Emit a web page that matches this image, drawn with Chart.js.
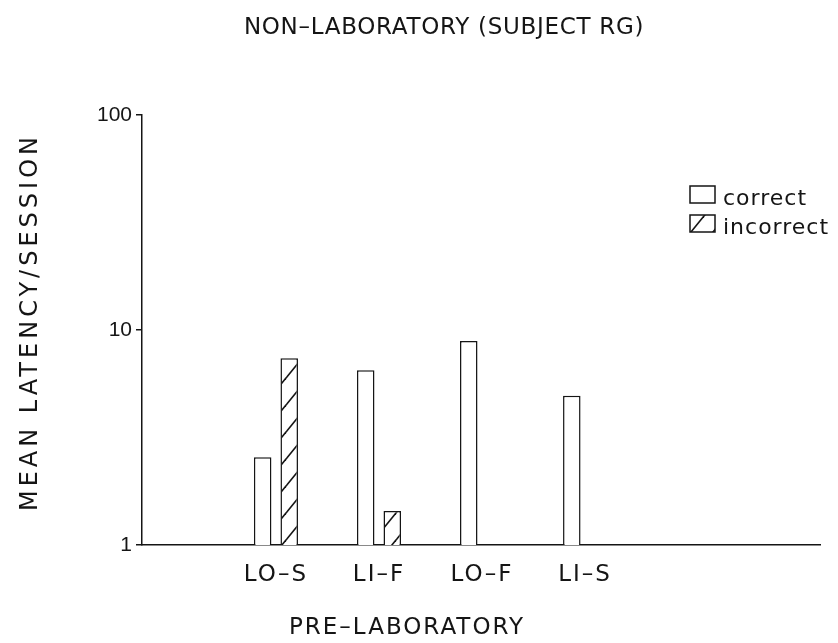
<!DOCTYPE html>
<html>
<head>
<meta charset="utf-8">
<script src="https://cdn.jsdelivr.net/npm/chart.js@4.4.1/dist/chart.umd.min.js"></script>
<style>
  body { margin: 0; background: #fff; }
</style>
</head>
<body>
<canvas id="myChart" width="838" height="643"></canvas>
<script>
// values
const categories = ['LO–S', 'LI–F', 'LO–F', 'LI–S'];
const categoryPos = [1, 2, 3, 4];
const correct = [2.56, 6.49, 8.88, 4.95];
const incorrect = [7.39, 1.44, null, null];
const yTicks = [1, 10, 100];
const seriesNames = ['correct', 'incorrect'];

const ink = '#151515';
const font = 'DejaVu Sans';

// diagonal hatch for the "incorrect" bars
function makeHatch() {
    const w = 22, h = 27;
    const c = document.createElement('canvas');
    c.width = w;
    c.height = h;
    const g = c.getContext('2d');
    g.fillStyle = '#fff';
    g.fillRect(0, 0, w, h);
    g.strokeStyle = ink;
    g.lineWidth = 1.6;
    for (let n = -1; n <= 1; n++) {
        g.beginPath();
        g.moveTo(-w, n * h + 2 * h);
        g.lineTo(2 * w, n * h - h);
        g.stroke();
    }
    return g.createPattern(c, 'repeat');
}
const hatch = makeHatch();

const textPlugin = {
    id: 'textPlugin',
    beforeDraw(chart) {
        // y labels are drawn before the bars, x labels after them (ticks.z = 1)
        chart.ctx.letterSpacing = '0px';
    },
    afterDatasetsDraw(chart) {
        chart.ctx.letterSpacing = '2px';
    },
    afterDraw(chart) {
        const ctx = chart.ctx;
        ctx.save();
        ctx.fillStyle = ink;
        ctx.textBaseline = 'alphabetic';
        ctx.textAlign = 'center';

        ctx.font = '23px "' + font + '"';
        ctx.letterSpacing = '0.7px';
        ctx.fillText('NON–LABORATORY (SUBJECT RG)', 444, 34);

        ctx.letterSpacing = '2px';
        ctx.fillText('PRE–LABORATORY', 407, 634);

        ctx.save();
        ctx.translate(37, 322);
        ctx.rotate(-Math.PI / 2);
        ctx.font = '24px "' + font + '"';
        ctx.letterSpacing = '4px';
        ctx.fillText('MEAN LATENCY/SESSION', 0, 0);
        ctx.restore();

        // legend
        ctx.font = '22px "' + font + '"';
        ctx.letterSpacing = '1px';
        ctx.textAlign = 'left';
        chart.data.datasets.forEach((ds, i) => {
            const top = 186 + i * 29;
            ctx.fillStyle = ds.backgroundColor;
            ctx.fillRect(690, top, 25, 17);
            ctx.strokeStyle = ink;
            ctx.lineWidth = 1.5;
            ctx.strokeRect(690, top, 25, 17);
            ctx.fillStyle = ink;
            ctx.fillText(ds.label, 723, top + 19);
        });
        ctx.restore();
    }
};

const ctx = document.getElementById('myChart');
new Chart(ctx, {
    type: 'bar',
    data: {
        datasets: [{
            label: seriesNames[0],
            data: categoryPos.map((x, i) => ({ x: x, y: correct[i] })),
            backgroundColor: '#fff',
            borderColor: ink,
            borderWidth: 1.5
        }, {
            label: seriesNames[1],
            data: categoryPos.map((x, i) => ({ x: x, y: incorrect[i] })),
            backgroundColor: hatch,
            borderColor: ink,
            borderWidth: 1.5
        }]
    },
    options: {
        responsive: false,
        animation: false,
        barPercentage: 0.66,
        categoryPercentage: 0.515,
        layout: { padding: { top: 115, left: 0, right: 18, bottom: 0 } },
        scales: {
            x: {
                type: 'linear',
                offset: false,
                min: -0.3,
                max: 6.28,
                afterBuildTicks: s => { s.ticks = categoryPos.map(v => ({ value: v })); },
                afterFit: s => { s.height = 98; },
                grid: { display: false, drawTicks: false },
                border: { display: true, color: ink, width: 1.5 },
                ticks: {
                    z: 1,
                    color: ink,
                    font: { family: font, size: 23 },
                    padding: 16,
                    maxRotation: 0,
                    autoSkip: false,
                    callback: v => categories[categoryPos.indexOf(v)] ?? ''
                }
            },
            y: {
                type: 'logarithmic',
                min: 1,
                max: 100,
                afterBuildTicks: s => { s.ticks = yTicks.map(v => ({ value: v })); },
                afterFit: s => { s.width = 142; },
                grid: { drawOnChartArea: false, drawTicks: true, tickLength: 6, color: ink, lineWidth: 1.5 },
                border: { display: true, color: ink, width: 1.5 },
                ticks: {
                    color: ink,
                    font: { family: 'Liberation Sans', size: 21 },
                    padding: 4,
                    callback: v => String(v)
                }
            }
        },
        plugins: {
            legend: { display: false },
            tooltip: { enabled: false },
            title: { display: false }
        }
    },
    plugins: [textPlugin]
});
</script>
</body>
</html>
